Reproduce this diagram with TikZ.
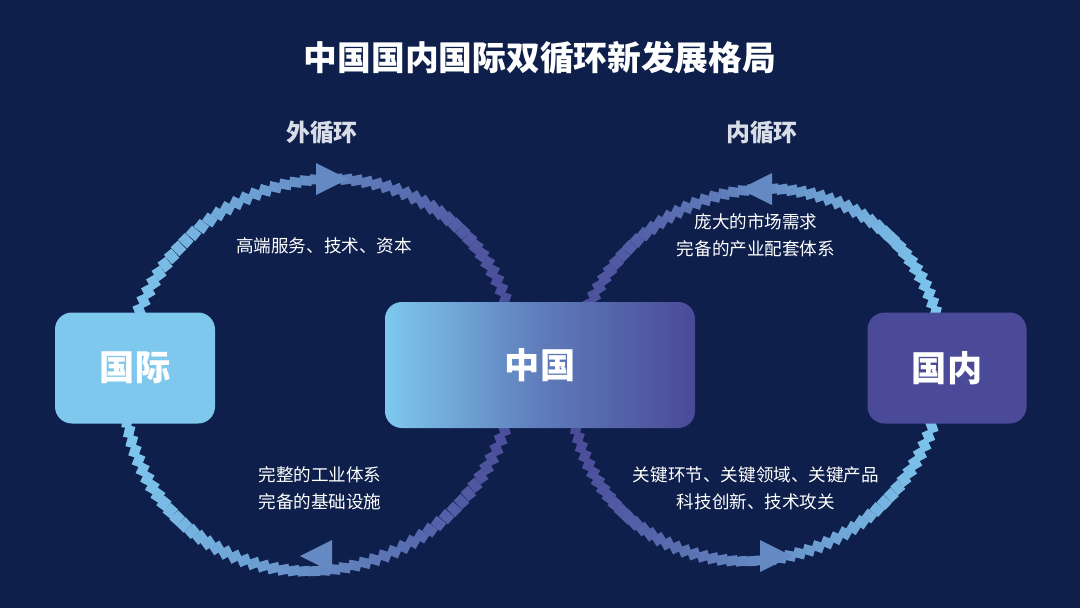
\documentclass[tikz,border=0pt]{standalone}
\usepackage{fontspec}
\setmainfont{Noto Sans CJK SC}
\usetikzlibrary{positioning}
\definecolor{bg}{HTML}{0D1F4A}
\definecolor{lite}{HTML}{7EC8EE}
\definecolor{deep}{HTML}{4A4A98}
\definecolor{cap}{HTML}{D8DDE8}
\tikzset{
  box/.style={rounded corners=12pt,minimum height=111*0.025cm,text=white,font=\bfseries\fontsize{25}{28}\selectfont},
  note/.style={text=white,align=center,font=\fontsize{12.5}{19}\selectfont},
  loophead/.style={font=\bfseries\fontsize{17}{20}\selectfont,text=cap}
}
\begin{document}
\begin{tikzpicture}[x=0.025cm,y=-0.025cm]
\fill[bg] (0,0) rectangle (1080,608);
% outer loop
\foreach \a in {0,3,...,357}{
  \pgfmathsetmacro\p{50+50*cos(\a+1.5)}
  \colorlet{seg}{deep!\p!lite}
  \draw[seg,line width=7pt] ([shift={(\a:196)}]320,375) arc[start angle=-\a,end angle=-\a-3.6,radius=196];
}
% inner loop
\foreach \a in {0,3,...,357}{
  \pgfmathsetmacro\p{50-50*cos(\a+1.5)}
  \colorlet{seg}{deep!\p!lite}
  \draw[seg,line width=7pt] ([shift={(\a:186)}]757,375) arc[start angle=-\a,end angle=-\a-3.6,radius=186];
}
% arrow heads
\fill[deep!50!lite] (348,179) -- (316,163) -- (316,195) -- cycle;
\fill[deep!50!lite] (300,556) -- (332,540) -- (332,572) -- cycle;
\fill[deep!50!lite] (740,189) -- (772,173) -- (772,205) -- cycle;
\fill[deep!50!lite] (792,556) -- (760,540) -- (760,572) -- cycle;
% boxes
\node[box,fill=lite,minimum width=160*0.025cm] (intl) at (135,368) {国际};
\node[box,left color=lite,right color=deep,middle color=deep!60!lite,minimum width=310*0.025cm,minimum height=126*0.025cm] (china) at (540,365) {中国};
\node[box,fill=deep,minimum width=159*0.025cm] (home) at (947,368) {国内};
% texts
\node[text=white,font=\bfseries\fontsize{24}{28}\selectfont] (title) at (540,58) {中国国内国际双循环新发展格局};
\node[loophead] (outer) at (322,133) {外循环};
\node[loophead] (inner) at (762,133) {内循环};
\node[note] (n1) at (324,246) {高端服务、技术、资本};
\node[note] (n2) at (320,488) {完整的工业体系\\完备的基础设施};
\node[note] (n3) at (756,235) {庞大的市场需求\\完备的产业配套体系};
\node[note] (n4) at (756,488) {关键环节、关键领域、关键产品\\科技创新、技术攻关};
\end{tikzpicture}
\end{document}
